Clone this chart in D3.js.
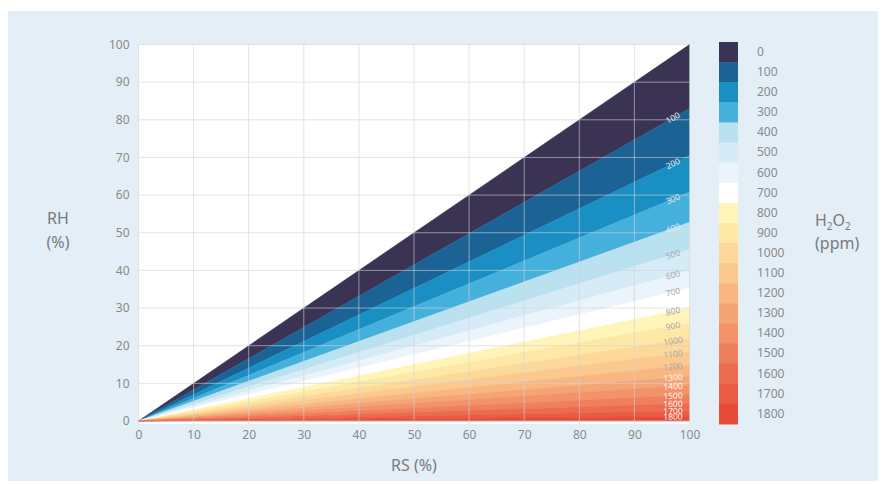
<!DOCTYPE html>
<html>
<head>
<meta charset="utf-8">
<script src="https://cdn.jsdelivr.net/npm/d3@7"></script>
<style>
  body { margin: 0; background: #fff; font-family: "Noto Sans", "Open Sans", sans-serif; }
  text { font-family: "Noto Sans", "Open Sans", sans-serif; }
</style>
</head>
<body>
<svg id="chart"></svg>
<script>
// H2O2 contour levels (ppm)
const levels = [0, 100, 200, 300, 400, 500, 600, 700, 800, 900, 1000, 1100, 1200, 1300, 1400, 1500, 1600, 1700, 1800];
// RH (%) where each contour level meets RS = 100 % (contours are rays from the origin)
const rhAtRs100 = [100, 83, 70.5, 60.8, 52.8, 45.6, 40, 35.3, 30, 26, 21.9, 18.3, 14.9, 11.9, 9.5, 6.9, 4.7, 2.7, 1.2];
const bandColors = ['#3b3354', '#1c6395', '#1a8fc4', '#45b0db', '#b9e1f0', '#d5ebf6', '#eaf4fa', '#ffffff',
  '#fff5b8', '#fde8a6', '#fcd89a', '#fbc88d', '#f8b781', '#f5a475', '#f2936a', '#ef805e', '#ec6c50', '#e95b44', '#e74a36'];
const xTicks = [0, 10, 20, 30, 40, 50, 60, 70, 80, 90, 100];
const yTicks = [0, 10, 20, 30, 40, 50, 60, 70, 80, 90, 100];

const W = 886, H = 484;
const svg = d3.select('#chart').attr('width', W).attr('height', H);

svg.append('rect').attr('x', 8).attr('y', 11).attr('width', 870).attr('height', 470).attr('fill', '#e4eef6');

const x = d3.scaleLinear().domain([0, 100]).range([138.5, 689.5]);
const y = d3.scaleLinear().domain([0, 100]).range([421, 44.5]);

// plot background
svg.append('rect')
  .attr('x', x(0)).attr('y', y(100))
  .attr('width', x(100) - x(0)).attr('height', 424 - y(100))
  .attr('fill', '#fff');

// bands between consecutive contour rays
const bands = levels.map((lv, i) => ({
  level: lv,
  top: rhAtRs100[i],
  bottom: i + 1 < rhAtRs100.length ? rhAtRs100[i + 1] : 0,
  color: bandColors[i]
}));

svg.append('g').selectAll('path')
  .data(bands)
  .join('path')
  .attr('d', d => `M${x(0)},${y(0)}L${x(100)},${y(d.top)}L${x(100)},${y(d.bottom)}Z`)
  .attr('fill', d => d.color)
  .attr('stroke', d => d.color)
  .attr('stroke-width', 0.5);

// grid on top of the contours
const grid = svg.append('g');
grid.selectAll('.vx').data(xTicks).join('line')
  .attr('x1', d => x(d)).attr('x2', d => x(d))
  .attr('y1', y(100)).attr('y2', 424)
  .attr('stroke', 'rgba(210,210,215,0.6)').attr('stroke-width', 1);
grid.selectAll('.hy').data(yTicks).join('line')
  .attr('x1', x(0)).attr('x2', x(100))
  .attr('y1', d => y(d)).attr('y2', d => y(d))
  .attr('stroke', 'rgba(210,210,215,0.6)').attr('stroke-width', 1);

// contour labels
const labelRs = 97;
const labelColor = lv => lv <= 400 ? '#e6e6ee' : (lv >= 1300 ? '#fff6f0' : '#a8a8a8');
svg.append('g').selectAll('text')
  .data(levels.slice(1).map((lv, i) => ({ level: lv, rh: rhAtRs100[i + 1] })))
  .join('text')
  .attr('transform', d => {
    const px = x(labelRs), py = y(d.rh * labelRs / 100);
    const ang = Math.atan2(y(0) - y(d.rh), x(100) - x(0)) * 180 / Math.PI;
    return `translate(${px},${py}) rotate(${-ang})`;
  })
  .attr('text-anchor', 'middle')
  .attr('dy', '0.35em')
  .attr('font-size', 8.5)
  .attr('fill', d => labelColor(d.level))
  .text(d => d.level);

// axes
const xAxis = d3.axisBottom(x).tickValues(xTicks).tickSize(0).tickPadding(0);
const yAxis = d3.axisLeft(y).tickValues(yTicks).tickSize(0).tickPadding(0);

svg.append('g').attr('transform', 'translate(0,430)').call(xAxis)
  .call(g => g.select('.domain').remove())
  .call(g => g.selectAll('text').attr('font-size', 12).attr('fill', '#8a8a8a').attr('dy', '0.71em'));

svg.append('g').attr('transform', `translate(${x(0) - 9},0)`).call(yAxis)
  .call(g => g.select('.domain').remove())
  .call(g => g.selectAll('text').attr('font-size', 12).attr('fill', '#8a8a8a'));

svg.append('text').attr('x', x(50)).attr('y', 471).attr('text-anchor', 'middle')
  .attr('font-size', 16).attr('fill', '#7a7a7a').text('RS (%)');

const rh = svg.append('text').attr('text-anchor', 'middle').attr('font-size', 16).attr('fill', '#7a7a7a');
rh.append('tspan').attr('x', 58).attr('y', 224).text('RH');
rh.append('tspan').attr('x', 58).attr('y', 248).text('(%)');

// colorbar
const cb = d3.scaleBand().domain(levels).range([42, 424]);
svg.append('g').selectAll('rect')
  .data(bands)
  .join('rect')
  .attr('x', 719).attr('width', 19)
  .attr('y', d => cb(d.level)).attr('height', cb.bandwidth() + 0.5)
  .attr('fill', d => d.color);

svg.append('g').attr('transform', 'translate(757,0)')
  .call(d3.axisRight(cb).tickSize(0).tickPadding(0))
  .call(g => g.select('.domain').remove())
  .call(g => g.selectAll('text').attr('font-size', 12).attr('fill', '#8a8a8a'));

const ct = svg.append('text').attr('font-size', 16).attr('fill', '#7a7a7a');
ct.append('tspan').attr('x', 815).attr('y', 226).text('H');
ct.append('tspan').attr('font-size', 10).attr('dy', 4).text('2');
ct.append('tspan').attr('dy', -4).text('O');
ct.append('tspan').attr('font-size', 10).attr('dy', 4).text('2');
svg.append('text').attr('x', 815).attr('y', 249).attr('font-size', 16).attr('fill', '#7a7a7a').text('(ppm)');
</script>
</body>
</html>
